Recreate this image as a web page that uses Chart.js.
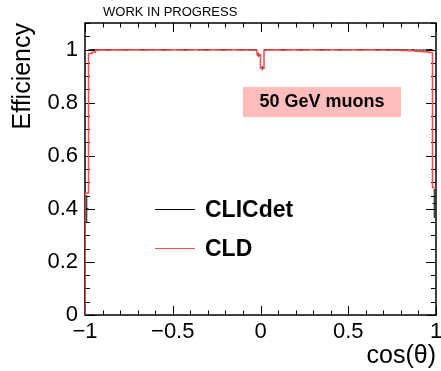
<!DOCTYPE html>
<html lang="en">
<head>
  <meta charset="UTF-8" />
  <title>Muon efficiency vs cos(theta)</title>
  <script src="https://cdn.jsdelivr.net/npm/chart.js"></script>
  <style>
    html, body { margin: 0; padding: 0; background: #fff; }
    canvas { display: block; }
  </style>
</head>
<body>
  <canvas id="effChart" width="441" height="371"></canvas>

  <script>
    // 100 bins of width 0.02 in cos(theta), from -1 to 1
    const binLow = -1;
    const binWidth = 0.02;

    const cldEff = [
      0.46, 0.985, 0.99, 0.997, 0.998, 0.998, 0.997, 0.998, 0.999, 0.998,
      0.998, 0.997, 0.998, 0.998, 0.999, 0.998, 0.997, 0.998, 0.998, 0.998,
      0.999, 0.998, 0.997, 0.998, 0.998, 0.999, 0.998, 0.998, 0.997, 0.998,
      0.998, 0.999, 0.998, 0.998, 0.997, 0.998, 0.999, 0.998, 0.998, 0.997,
      0.998, 0.998, 0.999, 0.998, 0.997, 0.998, 0.998, 0.997, 0.997, 0.98,
      0.93, 0.997, 0.998, 0.998, 0.999, 0.998, 0.997, 0.998, 0.998, 0.999,
      0.998, 0.997, 0.998, 0.998, 0.999, 0.998, 0.998, 0.997, 0.998, 0.998,
      0.999, 0.998, 0.997, 0.998, 0.998, 0.998, 0.999, 0.998, 0.997, 0.998,
      0.998, 0.999, 0.998, 0.997, 0.998, 0.998, 0.997, 0.998, 0.997, 0.997,
      0.996, 0.996, 0.995, 0.995, 0.994, 0.993, 0.992, 0.991, 0.989, 0.48
    ];

    const clicEff = [
      0.40, 0.999, 1.0, 0.999, 1.0, 0.999, 1.0, 1.0, 0.999, 1.0,
      1.0, 0.999, 1.0, 1.0, 0.999, 1.0, 1.0, 0.999, 1.0, 1.0,
      0.999, 1.0, 1.0, 0.999, 1.0, 1.0, 0.999, 1.0, 1.0, 0.999,
      1.0, 1.0, 0.999, 1.0, 1.0, 0.999, 1.0, 1.0, 0.999, 1.0,
      1.0, 0.999, 1.0, 1.0, 0.999, 1.0, 1.0, 0.999, 0.999, 0.98,
      0.93, 0.999, 1.0, 1.0, 0.999, 1.0, 1.0, 0.999, 1.0, 1.0,
      0.999, 1.0, 1.0, 0.999, 1.0, 1.0, 0.999, 1.0, 1.0, 0.999,
      1.0, 1.0, 0.999, 1.0, 1.0, 0.999, 1.0, 1.0, 0.999, 1.0,
      1.0, 0.999, 1.0, 1.0, 0.999, 1.0, 1.0, 0.999, 1.0, 0.999,
      0.999, 0.999, 0.998, 0.999, 0.998, 0.998, 0.998, 0.999, 1.0, 0.42
    ];

    // symmetric errors on the CLICdet points (only the edge bins are visible)
    const clicErr = clicEff.map((v, i) => (i === 0 ? 0.05 : i === 99 ? 0.055 : (i === 49 || i === 50) ? 0.008 : 0.001));

    const xTicks = [-1, -0.5, 0, 0.5, 1];
    const yTicks = [0, 0.2, 0.4, 0.6, 0.8, 1];

    const FONT = "'Liberation Sans', Arial, Helvetica, sans-serif";
    const RED = '#ff4a4a';

    // CLD: histogram outline, starting from zero at the left edge
    const cldSteps = [{ x: binLow, y: 0 }];
    cldEff.forEach((v, i) => cldSteps.push({ x: binLow + i * binWidth, y: v }));
    cldSteps.push({ x: binLow + cldEff.length * binWidth, y: cldEff[cldEff.length - 1] });

    // CLICdet: one horizontal bar per bin, plus a vertical error bar at the centre
    const clicBars = [];
    const clicErrBars = [];
    clicEff.forEach((v, i) => {
      const lo = binLow + i * binWidth;
      const c = lo + binWidth / 2;
      clicBars.push({ x: lo, y: v }, { x: lo + binWidth, y: v }, { x: lo + binWidth, y: null });
      clicErrBars.push({ x: c, y: v - clicErr[i] }, { x: c, y: Math.min(v + clicErr[i], 1.1) }, { x: c, y: null });
    });

    function fmtTick(v) {
      return String(Math.round(v * 100) / 100).replace('-', '\u2212');
    }

    // frame with inward ticks on all four sides (ROOT style)
    const framePlugin = {
      id: 'frame',
      beforeDatasetsDraw(chart) {
        const { ctx, chartArea: a, scales: { x, y } } = chart;
        ctx.save();
        ctx.strokeStyle = '#000';
        ctx.lineWidth = 1;
        ctx.beginPath();
        for (let k = 0; k <= 20; k++) {
          const v = -1 + k * 0.1;
          const px = Math.round(x.getPixelForValue(v)) + 0.5;
          const len = k % 5 === 0 ? 9 : 4.5;
          ctx.moveTo(px, a.bottom); ctx.lineTo(px, a.bottom - len);
          ctx.moveTo(px, a.top); ctx.lineTo(px, a.top + len);
        }
        for (let k = 0; k <= 22; k++) {
          const v = k * 0.05;
          const py = Math.round(y.getPixelForValue(v)) + 0.5;
          const len = k % 4 === 0 ? 10 : 5;
          ctx.moveTo(a.left, py); ctx.lineTo(a.left + len, py);
          ctx.moveTo(a.right, py); ctx.lineTo(a.right - len, py);
        }
        ctx.stroke();
        ctx.lineWidth = 1.5;
        ctx.strokeRect(a.left, a.top, a.right - a.left, a.bottom - a.top);
        ctx.restore();
      }
    };

    // legend, energy label and the "work in progress" tag
    const notesPlugin = {
      id: 'notes',
      afterDraw(chart) {
        const { ctx } = chart;
        ctx.save();

        ctx.fillStyle = '#000';
        ctx.font = '13px ' + FONT;
        ctx.textAlign = 'left';
        ctx.textBaseline = 'middle';
        ctx.fillText('WORK IN PROGRESS', 103, 12);

        ctx.fillStyle = '#ffbcbc';
        ctx.fillRect(243, 87, 158, 30);
        ctx.fillStyle = '#000';
        ctx.font = 'bold 18px ' + FONT;
        ctx.textAlign = 'center';
        ctx.fillText('50 GeV muons', 322, 102.5);

        const entries = chart.data.datasets.filter(d => d.legend);
        ctx.font = 'bold 23px ' + FONT;
        ctx.textAlign = 'left';
        ctx.textBaseline = 'alphabetic';
        entries.forEach((d, i) => {
          const yy = 209 + i * 39;
          ctx.strokeStyle = d.borderColor;
          ctx.lineWidth = 1;
          ctx.beginPath();
          ctx.moveTo(155, yy + 0.5);
          ctx.lineTo(195, yy + 0.5);
          ctx.stroke();
          ctx.fillStyle = '#000';
          ctx.fillText(d.label, 205, yy + 8);
        });
        ctx.restore();
      }
    };

    const ctx = document.getElementById('effChart').getContext('2d');
    new Chart(ctx, {
      type: 'line',
      data: {
        datasets: [
          {
            label: 'CLICdet',
            legend: true,
            data: clicBars,
            borderColor: '#000',
            borderWidth: 1,
            pointRadius: 0,
            spanGaps: false,
            order: 3
          },
          {
            label: 'CLICdet errors',
            data: clicErrBars,
            borderColor: '#000',
            borderWidth: 1,
            pointRadius: 0,
            spanGaps: false,
            order: 2
          },
          {
            label: 'CLD',
            legend: true,
            data: cldSteps,
            borderColor: RED,
            borderWidth: 1.5,
            pointRadius: 0,
            stepped: 'before',
            order: 1
          }
        ]
      },
      options: {
        responsive: false,
        animation: false,
        layout: { padding: { top: 23, right: 5, left: 0, bottom: 0 } },
        plugins: {
          legend: { display: false },
          tooltip: { enabled: false }
        },
        scales: {
          x: {
            type: 'linear',
            min: -1,
            max: 1,
            afterBuildTicks: s => { s.ticks = xTicks.map(v => ({ value: v })); },
            afterFit: s => { s.height = 56; s.paddingLeft = 0; s.paddingRight = 0; },
            grid: { display: false, drawTicks: false },
            border: { display: false },
            ticks: {
              color: '#000',
              padding: 4,
              maxRotation: 0,
              font: { family: FONT, size: 22 },
              callback: v => fmtTick(v)
            },
            title: {
              display: true,
              text: 'cos(\u03b8)',
              align: 'end',
              color: '#000',
              font: { family: FONT, size: 25 },
              padding: { top: 0, bottom: 0 }
            }
          },
          y: {
            min: 0,
            max: 1.1,
            afterBuildTicks: s => { s.ticks = yTicks.map(v => ({ value: v })); },
            afterFit: s => { s.width = 85; s.paddingTop = 0; s.paddingBottom = 0; },
            grid: { display: false, drawTicks: false },
            border: { display: false },
            ticks: {
              color: '#000',
              padding: 7,
              font: { family: FONT, size: 22 },
              callback: v => fmtTick(v)
            },
            title: {
              display: true,
              text: 'Efficiency',
              align: 'end',
              color: '#000',
              font: { family: FONT, size: 25 },
              padding: { top: 8, bottom: 0 }
            }
          }
        }
      },
      plugins: [framePlugin, notesPlugin]
    });
  </script>
</body>
</html>
